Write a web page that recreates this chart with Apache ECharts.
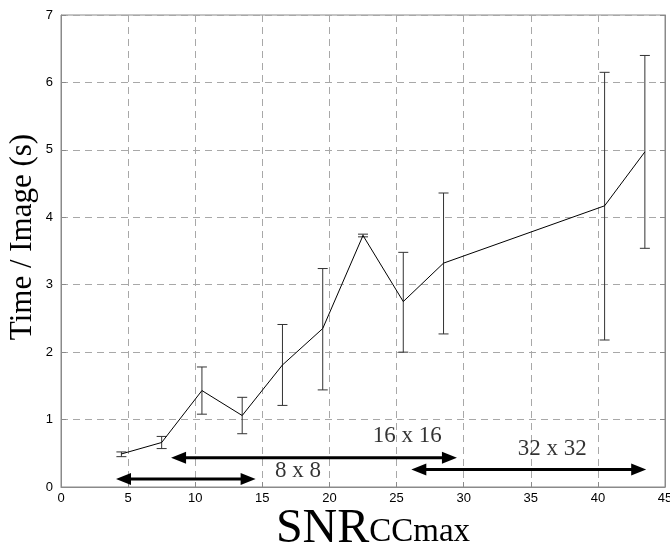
<!DOCTYPE html>
<html>
<head>
<meta charset="utf-8">
<script src="https://cdn.jsdelivr.net/npm/echarts@6/dist/echarts.min.js"></script>
<style>
  html, body { margin: 0; padding: 0; background: #fff; }
  #main { width: 670px; height: 549px; }
</style>
</head>
<body>
<div id="main"></div>
<script>
// snr values and timing (mean, min, max)
var snr   = [4.5, 7.5, 10.5, 13.5, 16.5, 19.5, 22.5, 25.5, 28.5, 40.5, 43.5];
var times = [0.49, 0.66, 1.43, 1.06, 1.81, 2.35, 3.73, 2.75, 3.32, 4.17, 4.97];
var lows  = [0.45, 0.57, 1.08, 0.79, 1.21, 1.44, 3.71, 2.00, 2.27, 2.18, 3.54];
var highs = [0.52, 0.75, 1.78, 1.33, 2.41, 3.24, 3.75, 3.48, 4.36, 6.15, 6.40];

// window size ranges (arrow tips) and their labels
var rangeNames  = ['8 x 8', '16 x 16', '32 x 32'];
var rangeFrom   = [4.1, 8.2, 26.1];
var rangeTo     = [14.5, 29.5, 43.6];
var rangeY      = [0.12, 0.435, 0.26];
var labelX      = [17.65, 25.8, 36.6];
var labelY      = [0.245, 0.76, 0.565];

var myChart = echarts.init(document.getElementById('main'));

var errData = [];
for (var i = 0; i < snr.length; i++) {
    errData.push([snr[i], lows[i], highs[i]]);
}

var arrowData = [];
for (var j = 0; j < rangeNames.length; j++) {
    arrowData.push([rangeFrom[j], rangeTo[j], rangeY[j]]);
}

var labelData = [];
for (var k = 0; k < rangeNames.length; k++) {
    labelData.push([labelX[k], labelY[k], rangeNames[k]]);
}

var serif = '"Liberation Serif", "DejaVu Serif", serif';
var sans = '"Liberation Sans", Arial, sans-serif';

var option = {
    backgroundColor: '#fff',
    animation: false,
    grid: {
        left: 61, right: 5, top: 15, bottom: 62,
        outerBoundsMode: 'none',
        containLabel: false,
        show: true,
        borderColor: '#8a8a8a',
        borderWidth: 1
    },
    xAxis: {
        type: 'value',
        min: 0, max: 45, interval: 5,
        axisLine: { lineStyle: { color: '#8a8a8a' } },
        axisTick: { inside: true, length: 5, lineStyle: { color: '#8a8a8a' } },
        axisLabel: { color: '#000', fontFamily: sans, fontSize: 13, margin: 5 },
        splitLine: { lineStyle: { color: '#a8a8a8', type: [7, 5] } },
        name: '{a|SNR}{b|CCmax}',
        nameLocation: 'middle',
        nameGap: 18,
        nameMoveOverlap: false,
        nameTextStyle: {
            padding: [0, 0, 0, 20],
            rich: {
                a: { fontFamily: serif, fontSize: 48, color: '#000', lineHeight: 48, verticalAlign: 'bottom' },
                b: { fontFamily: serif, fontSize: 33, color: '#000', lineHeight: 40, verticalAlign: 'bottom',
                     padding: [0, 0, 4, 0] }
            }
        }
    },
    yAxis: [
        {
            type: 'value',
            min: 0, max: 7, interval: 1,
            axisLine: { show: true, lineStyle: { color: '#8a8a8a' } },
            axisTick: { show: true, inside: true, length: 5, lineStyle: { color: '#8a8a8a' } },
            axisLabel: { color: '#000', fontFamily: sans, fontSize: 13, margin: 8 },
            splitLine: { lineStyle: { color: '#a8a8a8', type: [7, 5] } },
            name: 'Time / Image (s)',
            nameLocation: 'middle',
            nameGap: 23,
            nameMoveOverlap: false,
            nameTextStyle: { fontFamily: serif, fontSize: 31, color: '#000', padding: [0, 0, 0, 28] }
        },
        {
            type: 'value',
            position: 'right',
            min: 0, max: 7, interval: 1,
            axisLine: { show: true, lineStyle: { color: '#8a8a8a' } },
            axisTick: { show: true, inside: true, length: 5, lineStyle: { color: '#8a8a8a' } },
            axisLabel: { show: false },
            splitLine: { show: false }
        }
    ],
    series: [
        {
            type: 'line',
            data: snr.map(function (x, i) { return [x, times[i]]; }),
            symbol: 'none',
            lineStyle: { color: '#000', width: 1 },
            z: 5
        },
        {
            type: 'custom',
            data: errData,
            renderItem: function (params, api) {
                var x = api.value(0);
                var lo = api.coord([x, api.value(1)]);
                var hi = api.coord([x, api.value(2)]);
                var w = 5;
                var st = { stroke: '#333', lineWidth: 1 };
                return {
                    type: 'group',
                    children: [
                        { type: 'line', shape: { x1: lo[0], y1: lo[1], x2: hi[0], y2: hi[1] }, style: st },
                        { type: 'line', shape: { x1: lo[0] - w, y1: lo[1], x2: lo[0] + w, y2: lo[1] }, style: st },
                        { type: 'line', shape: { x1: hi[0] - w, y1: hi[1], x2: hi[0] + w, y2: hi[1] }, style: st }
                    ]
                };
            },
            z: 4
        },
        {
            // double-headed arrows
            type: 'custom',
            data: arrowData,
            renderItem: function (params, api) {
                var a = api.coord([api.value(0), api.value(2)]);
                var b = api.coord([api.value(1), api.value(2)]);
                var len = 15, hw = 6;
                return {
                    type: 'group',
                    children: [
                        { type: 'line', shape: { x1: a[0] + 8, y1: a[1], x2: b[0] - 8, y2: b[1] },
                          style: { stroke: '#000', lineWidth: 3 } },
                        { type: 'polygon', shape: { points: [[a[0], a[1]], [a[0] + len, a[1] - hw], [a[0] + len, a[1] + hw]] },
                          style: { fill: '#000' } },
                        { type: 'polygon', shape: { points: [[b[0], b[1]], [b[0] - len, b[1] - hw], [b[0] - len, b[1] + hw]] },
                          style: { fill: '#000' } }
                    ]
                };
            },
            z: 6
        },
        {
            type: 'scatter',
            data: labelData,
            symbolSize: 0,
            label: {
                show: true,
                position: 'inside',
                formatter: function (p) { return p.value[2]; },
                fontFamily: serif,
                fontSize: 23,
                color: '#000'
            },
            z: 7
        }
    ]
};
myChart.setOption(option);
</script>
</body>
</html>
